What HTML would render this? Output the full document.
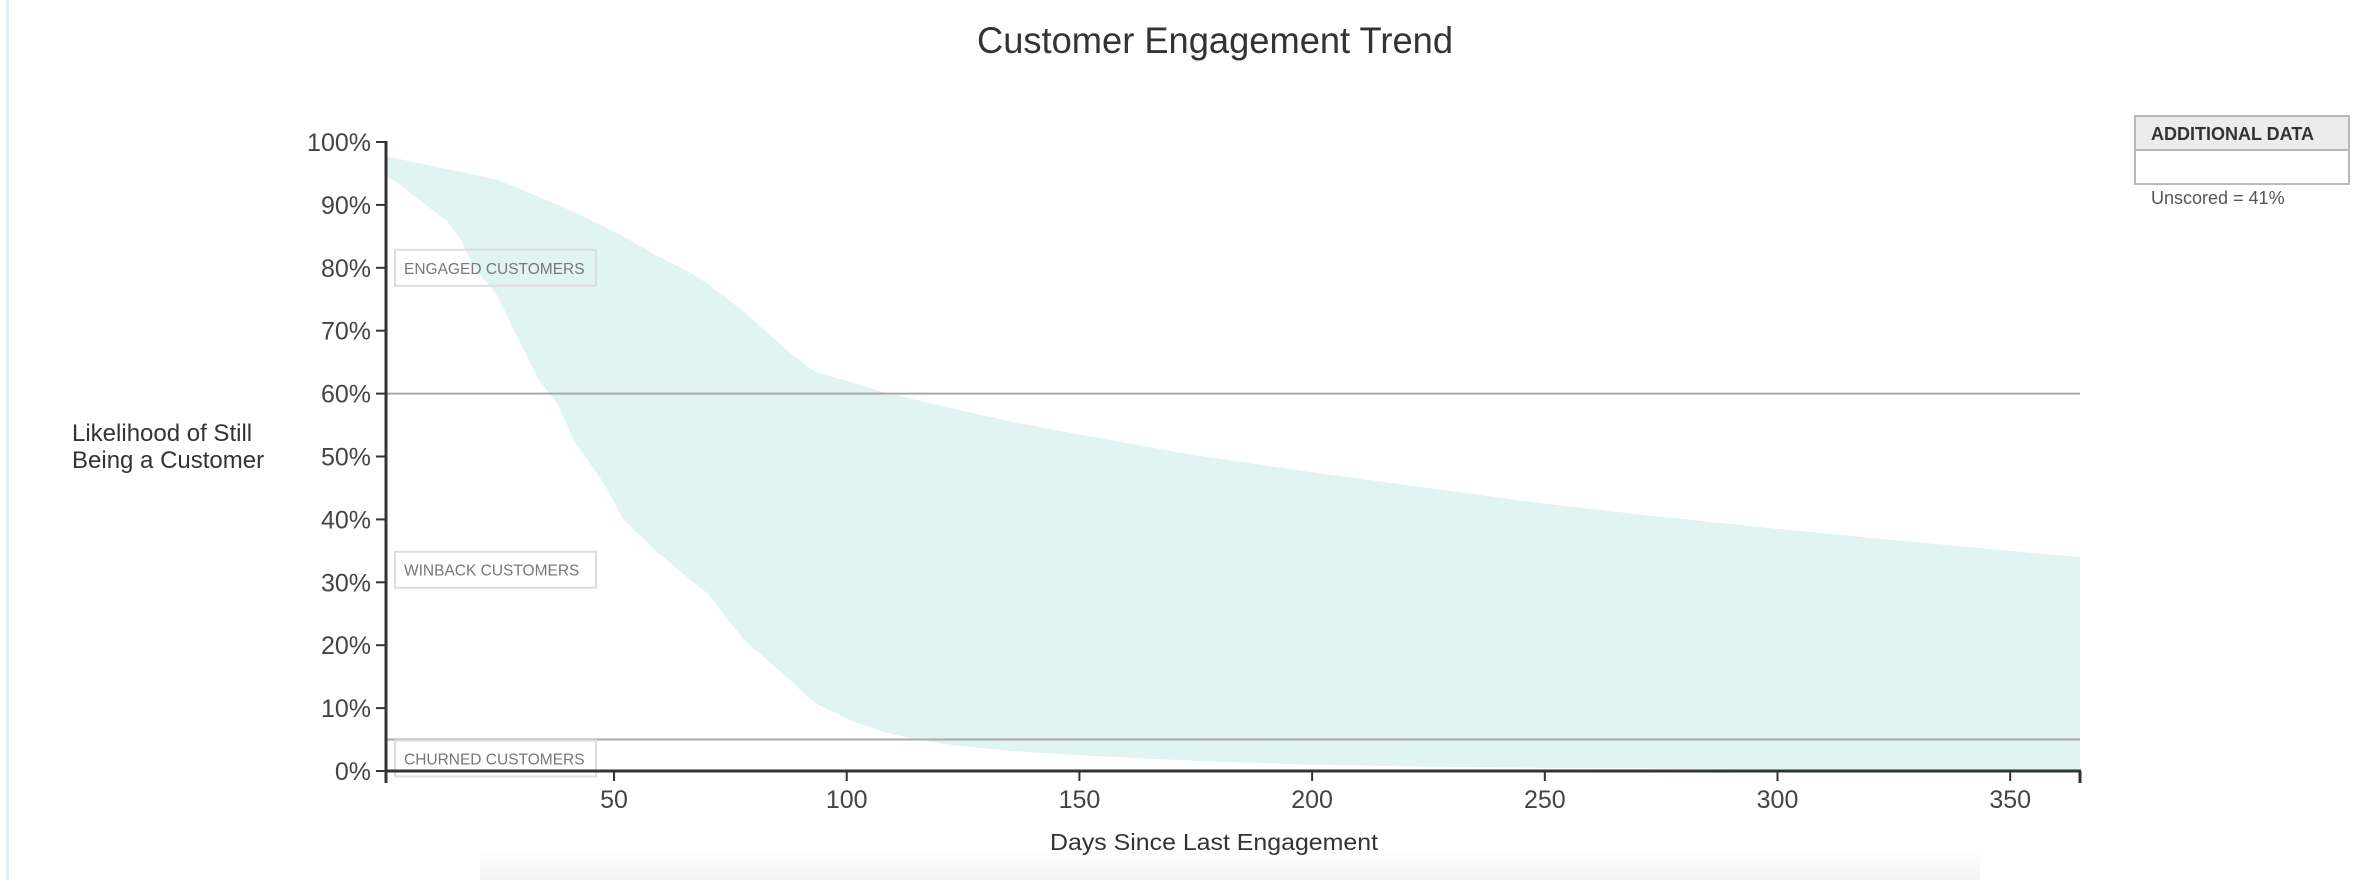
<!DOCTYPE html>
<html><head><meta charset="utf-8">
<style>
html,body{margin:0;padding:0;background:#fff;}
body{width:2361px;height:880px;overflow:hidden;position:relative;font-family:"Liberation Sans",sans-serif;}
svg{position:absolute;left:0;top:0;}
</style></head>
<body>
<svg width="2361" height="880" viewBox="0 0 2361 880" id="chart">
  <defs>
    <linearGradient id="bottomShade" x1="0" y1="0" x2="0" y2="1">
      <stop offset="0" stop-color="#ffffff"/>
      <stop offset="1" stop-color="#f3f3f3"/>
    </linearGradient>
  </defs>
  <rect x="0" y="0" width="2361" height="880" fill="#fff"/>
  <rect x="480" y="850" width="1500" height="30" fill="url(#bottomShade)"/>
  <rect x="6" y="0" width="3" height="880" fill="#e6edf2"/>
  <text x="1215" y="53" text-anchor="middle" font-size="37" fill="#333" textLength="476" lengthAdjust="spacingAndGlyphs">Customer Engagement Trend</text>
  <g id="plot"></g>
  <text x="72" y="441" font-size="24" fill="#333">Likelihood of Still</text>
  <text x="72" y="468" font-size="24" fill="#333">Being a Customer</text>
  <text x="1214" y="850" text-anchor="middle" font-size="23" fill="#333" textLength="328" lengthAdjust="spacingAndGlyphs">Days Since Last Engagement</text>
  <g>
    <rect x="2135" y="116" width="214" height="68" fill="#fff" stroke="#b8b8b8" stroke-width="2"/>
    <rect x="2136" y="117" width="212" height="33" fill="#ececec"/>
    <line x1="2135" y1="150" x2="2349" y2="150" stroke="#b8b8b8" stroke-width="2"/>
    <text x="2151" y="140" font-size="18" font-weight="bold" fill="#333">ADDITIONAL DATA</text>
    <text x="2151" y="205" font-size="18" fill="#555" transform="translate(0,-1)">Unscored = 41%</text>
  </g>
</svg>
<script>
const days  = [1, 2.5, 14, 17, 20, 25, 30, 34, 38, 41, 48, 52, 59, 67, 70, 78, 87, 92, 94, 101, 108, 115, 123, 135, 150, 175, 200, 225, 250, 275, 300, 325, 350, 365];
const upper = [97.8, 97.5, 95.7, 95.3, 94.8, 94, 92.5, 91.2, 90, 89, 86.5, 85, 82, 79, 77.5, 73, 67, 64, 63.3, 61.8, 60.2, 59, 57.6, 55.6, 53.5, 50.2, 47.5, 45, 42.5, 40.4, 38.5, 36.7, 35, 34];
const lower = [94.5, 94, 87.5, 84.5, 80, 75.5, 67.7, 62, 58.3, 53, 45.5, 40, 35, 30, 28.3, 20.8, 15, 11.5, 10.5, 8, 6.2, 5, 4.1, 3.2, 2.5, 1.6, 1, 0.7, 0.5, 0.4, 0.3, 0.25, 0.2, 0.2];
const yTicks = [0, 10, 20, 30, 40, 50, 60, 70, 80, 90, 100];
const xTicks = [50, 100, 150, 200, 250, 300, 350];
const refLines = [60, 5];
const zoneLabels = ["ENGAGED CUSTOMERS", "WINBACK CUSTOMERS", "CHURNED CUSTOMERS"];
const zoneValues = [80, 32, 2];

const X0 = 386, X1 = 2080, D0 = 1, D1 = 365;
const Y0 = 771, Y1 = 142;
const xs = d => X0 + (d - D0) / (D1 - D0) * (X1 - X0);
const ys = v => Y0 - v / 100 * (Y0 - Y1);
const NS = "http://www.w3.org/2000/svg";
const plot = document.getElementById("plot");
function mk(tag, attrs, parent) {
  const e = document.createElementNS(NS, tag);
  for (const k in attrs) e.setAttribute(k, attrs[k]);
  (parent || plot).appendChild(e);
  return e;
}

// band area
let d = "M" + xs(days[0]) + "," + ys(upper[0]);
for (let i = 1; i < days.length; i++) d += " L" + xs(days[i]) + "," + ys(upper[i]);
for (let i = days.length - 1; i >= 0; i--) d += " L" + xs(days[i]) + "," + ys(lower[i]);
d += " Z";
const band = mk("path", {d: d, fill: "#e0f4f1"});



// reference lines
refLines.forEach((v, i) => {
  const l = mk("line", {x1: X0, x2: X1, y1: ys(v), y2: ys(v), stroke: "#aaaaaa", "stroke-width": 2});
  
  
});

// zone labels
zoneLabels.forEach((t, i) => {
  const g = mk("g", {});
  
  
  const cy = ys(zoneValues[i]);
  mk("rect", {x: 395, y: cy - 18, width: 201, height: 36, fill: "none", stroke: "#dddddd", "stroke-width": 2}, g);
  const tx = mk("text", {x: 404, y: cy + 6, "font-size": 15.5, fill: "#777"}, g);
  tx.textContent = t;
});

// y axis
const ya = mk("line", {x1: X0, x2: X0, y1: Y1 - 1, y2: Y0 + 1, stroke: "#333", "stroke-width": 3});


yTicks.forEach(v => {
  const t = mk("line", {x1: X0 - 10, x2: X0, y1: ys(v), y2: ys(v), stroke: "#333", "stroke-width": 2});
  
  
  const lb = mk("text", {x: X0 - 15, y: ys(v) + 9, "text-anchor": "end", "font-size": 25, fill: "#444"});
  
  
  lb.textContent = v + "%";
});

// x axis
const xa = mk("line", {x1: X0 - 1, x2: X1 + 1, y1: Y0, y2: Y0, stroke: "#333", "stroke-width": 3});


[D0, D1].forEach(v => {
  const t = mk("line", {x1: xs(v), x2: xs(v), y1: Y0, y2: Y0 + 12, stroke: "#333", "stroke-width": 3});
  
  
});
xTicks.forEach(v => {
  const t = mk("line", {x1: xs(v), x2: xs(v), y1: Y0, y2: Y0 + 10, stroke: "#333", "stroke-width": 2});
  
  
  const lb = mk("text", {x: xs(v), y: 808, "text-anchor": "middle", "font-size": 25, fill: "#444"});
  
  
  lb.textContent = v;
});
</script>
</body></html>
